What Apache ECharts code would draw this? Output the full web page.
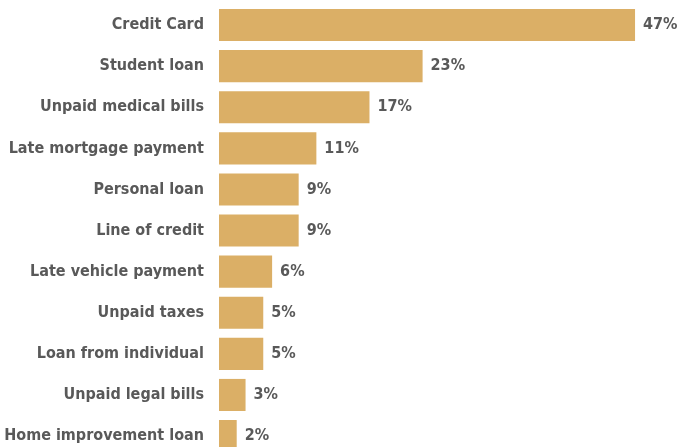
<!DOCTYPE html>
<html>
<head>
<meta charset="utf-8">
<script src="https://cdn.jsdelivr.net/npm/echarts@6/dist/echarts.min.js"></script>
<style>
  html, body { margin: 0; padding: 0; background: #fff; }
  #chart { width: 678px; height: 447px; }
</style>
</head>
<body>
<div id="chart"></div>
<script>
// Types of debt held, share of respondents (%)
const categories = [
  'Credit Card',
  'Student loan',
  'Unpaid medical bills',
  'Late mortgage payment',
  'Personal loan',
  'Line of credit',
  'Late vehicle payment',
  'Unpaid taxes',
  'Loan from individual',
  'Unpaid legal bills',
  'Home improvement loan'
];
const shares = [47, 23, 17, 11, 9, 9, 6, 5, 5, 3, 2];

const FONT = '"Liberation Sans Narrow", "DejaVu Sans Condensed", sans-serif';
const TEXT = '#595959';

const chart = echarts.init(document.getElementById('chart'));
chart.setOption({
  animation: false,
  grid: {
    left: 219, right: 16.4, top: 4.5, bottom: -9.6,
    containLabel: false,
    outerBoundsMode: 'none'
  },
  xAxis: {
    type: 'value',
    min: 0,
    max: 50,
    show: false
  },
  yAxis: {
    type: 'category',
    data: categories,
    inverse: true,
    axisLine: { show: false },
    axisTick: { show: false },
    splitLine: { show: false },
    axisLabel: {
      margin: 15,
      color: TEXT,
      fontFamily: FONT,
      fontWeight: 'bold',
      fontSize: 16
    }
  },
  series: [{
    type: 'bar',
    data: shares,
    barCategoryGap: '22%',
    itemStyle: { color: '#DBAF66' },
    label: {
      show: true,
      position: 'right',
      distance: 8,
      formatter: '{c}%',
      color: TEXT,
      fontFamily: FONT,
      fontWeight: 'bold',
      fontSize: 16
    }
  }]
});
</script>
</body>
</html>
